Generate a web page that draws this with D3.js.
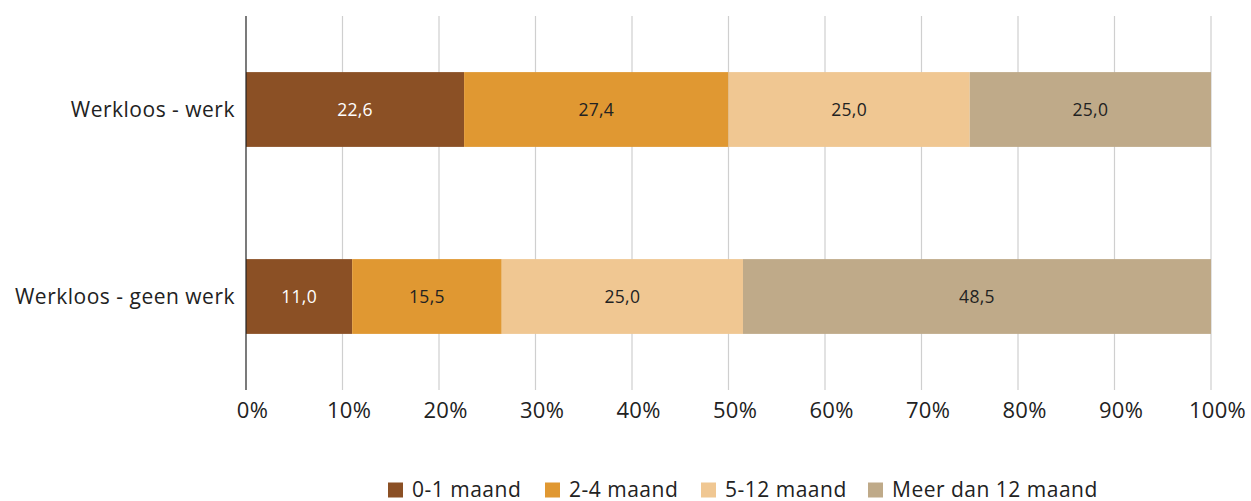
<!DOCTYPE html>
<html>
<head>
<meta charset="utf-8">
<script src="https://cdn.jsdelivr.net/npm/d3@7"></script>
<style>
  body { margin: 0; background: #fff; }
  text { font-family: "Open Sans", sans-serif; fill: #222; }
</style>
</head>
<body>
<div id="chart"></div>
<script>
const categories = ["Werkloos - werk", "Werkloos - geen werk"];
const seriesNames = ["0-1 maand", "2-4 maand", "5-12 maand", "Meer dan 12 maand"];
const seriesColors = ["#8B5025", "#E09832", "#F0C792", "#BFAA89"];
const labelColors = ["#fff", "#222", "#222", "#222"];
const values = [
  [22.6, 27.4, 25.0, 25.0],
  [11.0, 15.5, 25.0, 48.5]
];
const xTicks = [0, 10, 20, 30, 40, 50, 60, 70, 80, 90, 100];

const width = 1251, height = 501;
const margin = { left: 246, right: 40, top: 16, bottom: 111 };

const svg = d3.select("#chart").append("svg")
  .attr("width", width).attr("height", height);

const x = d3.scaleLinear().domain([0, 100]).range([margin.left, 1211]);
const y = d3.scaleBand().domain(categories)
  .range([margin.top, height - margin.bottom]).paddingInner(0.6).paddingOuter(0.3);

// gridlines
svg.append("g")
  .selectAll("line").data(xTicks.slice(1)).join("line")
  .attr("x1", d => x(d)).attr("x2", d => x(d))
  .attr("y1", margin.top).attr("y2", height - margin.bottom)
  .attr("stroke", "#cfcfcf").attr("stroke-width", 1.2);

// x axis labels
const xAxis = d3.axisBottom(x).tickValues(xTicks).tickFormat(d => d + "%").tickSize(0).tickPadding(12);
const gx = svg.append("g").attr("transform", `translate(6,${height - margin.bottom})`).call(xAxis);
gx.select(".domain").remove();
gx.selectAll("text").style("font-size", "22px").style("letter-spacing", "0.3px")
  .attr("fill", "#222").style("font-family", "Open Sans, sans-serif");

// stacked bars
const rows = categories.map((c, i) => {
  let acc = 0;
  return values[i].map((v, j) => {
    const seg = { cat: c, j, v, x0: acc, x1: acc + v };
    acc += v;
    return seg;
  });
});

const g = svg.append("g");
rows.forEach(row => {
  g.selectAll(null).data(row).join("rect")
    .attr("x", d => x(d.x0)).attr("width", d => x(d.x1) - x(d.x0))
    .attr("y", d => y(d.cat)).attr("height", y.bandwidth())
    .attr("fill", d => seriesColors[d.j]);
  g.selectAll(null).data(row).join("text")
    .attr("x", d => (x(d.x0) + x(d.x1)) / 2)
    .attr("y", d => y(d.cat) + y.bandwidth() / 2)
    .attr("text-anchor", "middle").attr("dy", "0.35em")
    .style("font-size", "17.5px").style("letter-spacing", "0.3px")
    .style("fill", d => labelColors[d.j])
    .text(d => d3.format(".1f")(d.v).replace(".", ","));
});

// y axis line
svg.append("line")
  .attr("x1", x(0)).attr("x2", x(0))
  .attr("y1", margin.top).attr("y2", height - margin.bottom)
  .attr("stroke", "#222").attr("stroke-width", 1.2);

// category labels
svg.append("g").selectAll("text").data(categories).join("text")
  .attr("x", 235).attr("y", d => y(d) + y.bandwidth() / 2)
  .attr("dy", "0.35em").attr("text-anchor", "end")
  .style("font-size", "21px").style("letter-spacing", "0.5px")
  .text(d => d);

// legend
const legendX = [388, 545, 701, 868];
const legend = svg.append("g").attr("transform", "translate(0,490)");
seriesNames.forEach((s, i) => {
  legend.append("rect").attr("x", legendX[i]).attr("y", -7.5).attr("width", 15).attr("height", 15)
    .attr("fill", seriesColors[i]);
  legend.append("text").attr("x", legendX[i] + 24).attr("y", 0).attr("dy", "0.35em")
    .style("font-size", "21px").style("letter-spacing", "0.5px").text(s);
});
</script>
</body>
</html>
